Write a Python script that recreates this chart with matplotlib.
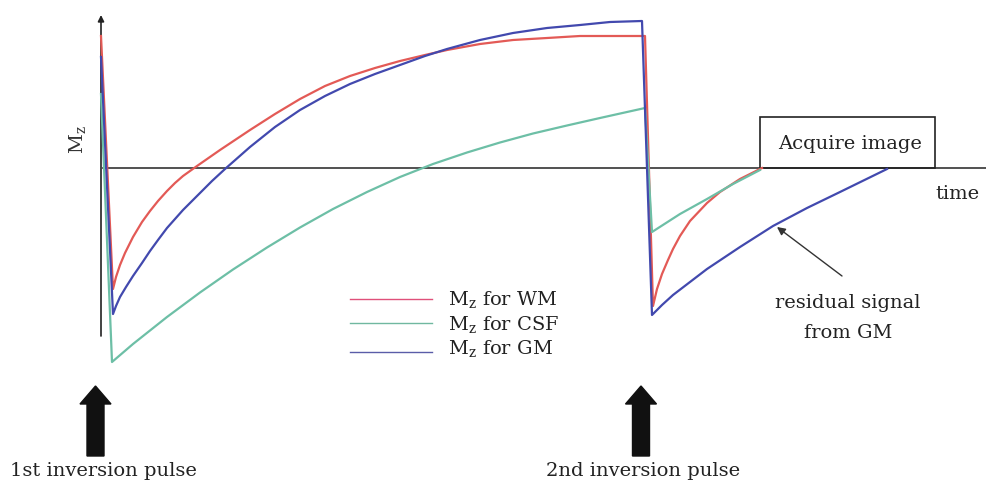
import matplotlib
matplotlib.use("Agg")
import matplotlib.pyplot as plt
from matplotlib.patches import FancyArrow, Rectangle

plt.rcParams['font.family'] = ['DejaVu Serif']
plt.rcParams['mathtext.fontset'] = 'dejavuserif'

# ---- data (time in arbitrary units, Mz in arbitrary units, 0 = null line) ----
# values
wm_t = [101, 113, 116, 120, 125, 133, 142, 150, 158, 167, 175, 183, 190, 197,
        220, 250, 275, 300, 325, 350, 375, 400, 425, 447, 480, 513, 547, 580,
        645, 653, 657, 662, 668, 673, 680, 690, 707, 720, 740, 762]
wm_mz = [132, -121, -109, -97, -85, -69, -54, -43, -33, -23, -15, -8, -3, 2,
         18, 38, 54, 69, 82, 92, 100, 107, 113, 118, 124, 128, 130, 132,
         132, -138, -121, -106, -92, -81, -68, -53, -35, -24, -11, 0]

gm_t = [101, 113, 116, 120, 126, 133, 142, 150, 158, 167, 175, 183, 192, 200,
        212, 225, 250, 275, 300, 325, 350, 375, 400, 425, 447, 480, 513, 547,
        580, 610, 642, 652, 662, 673, 690, 707, 740, 773, 807, 840, 887]
gm_mz = [111, -146, -138, -129, -119, -108, -95, -83, -72, -60, -51, -42, -33, -25,
         -13, -1, 21, 41, 58, 72, 84, 94, 103, 112, 119, 128, 135, 140,
         143, 146, 147, -147, -137, -127, -114, -101, -79, -58, -40, -24, -1]

csf_t = [101, 112, 133, 167, 200, 233, 267, 300, 333, 367, 400, 433, 467, 500,
         533, 567, 600, 645, 652, 680, 707, 733, 760]
csf_mz = [74, -194, -176, -149, -124.5, -101.5, -79.5, -59.5, -41, -24, -9, 4,
          15.5, 25.5, 34.5, 42.5, 50, 60, -64, -46, -31, -16, -2]

pulse_t = [95.5, 641]
pulse_labels = ["1st inversion pulse", "2nd inversion pulse"]
pulse_label_x = [103, 643]
legend_labels = [r"M$_\mathrm{z}$ for WM", r"M$_\mathrm{z}$ for CSF",
                 r"M$_\mathrm{z}$ for GM"]

c_wm = '#e35a56'
c_gm = '#4249ae'
c_csf = '#6dbfa6'

fig = plt.figure(figsize=(9.86, 4.81), dpi=100)
ax = fig.add_axes([0, 0, 1, 1])
ax.set_xlim(0, 986)
ax.set_ylim(-312, 169)
ax.axis('off')

# axes
ax.plot([103, 986], [0, 0], color='#333333', lw=1.2, zorder=1)
ax.annotate('', xy=(101, 153), xytext=(101, -168),
            arrowprops=dict(arrowstyle='-|>', color='#222222', lw=1.2,
                            mutation_scale=9, shrinkA=0, shrinkB=0), zorder=1)

# curves
ax.plot(wm_t, wm_mz, color=c_wm, lw=1.6, zorder=3)
ax.plot(csf_t, csf_mz, color=c_csf, lw=1.6, zorder=3)
ax.plot(gm_t, gm_mz, color=c_gm, lw=1.6, zorder=4)

# label Mz
ax.text(78, 29, r"M$_\mathrm{z}$", rotation=90, fontsize=14, ha='center',
        va='center', color='#333333')

# time
ax.text(935, -30, "time", fontsize=14, ha='left', va='baseline', color='#222222')

# acquire image box
ax.add_patch(Rectangle((760, 0), 175, 51, fill=False, edgecolor='#222222',
                       lw=1.2, zorder=2))
ax.text(850, 20, "Acquire image", fontsize=14, ha='center', va='baseline',
        color='#222222')

# legend
leg_y = [-131, -155, -184]
leg_text_y = [-136, -161, -185]
leg_colors = ['#e0507a', '#70b8a0', '#5a5ca8']
for yy, ty, col, lab in zip(leg_y, leg_text_y, leg_colors, legend_labels):
    ax.plot([350, 432], [yy, yy], color=col, lw=1.0)
    ax.text(448, ty, lab, fontsize=14, ha='left', va='baseline', color='#222222')

# residual annotation
ax.text(848, -139, "residual signal", fontsize=14, ha='center', va='baseline',
        color='#222222')
ax.text(848, -169, "from GM", fontsize=14, ha='center', va='baseline',
        color='#222222')
ax.annotate('', xy=(777, -59), xytext=(842, -108),
            arrowprops=dict(arrowstyle='-|>', color='#333333', lw=1.0,
                            mutation_scale=12, shrinkA=0, shrinkB=0))

# inversion pulses
for px, lab, lx in zip(pulse_t, pulse_labels, pulse_label_x):
    ax.add_patch(FancyArrow(px, -288, 0, 70, width=17, head_width=31,
                            head_length=18, length_includes_head=True,
                            color='#111111'))
    ax.text(lx, -307, lab, fontsize=14, ha='center', va='baseline',
            color='#222222')

fig.savefig('out.png', dpi=100)
